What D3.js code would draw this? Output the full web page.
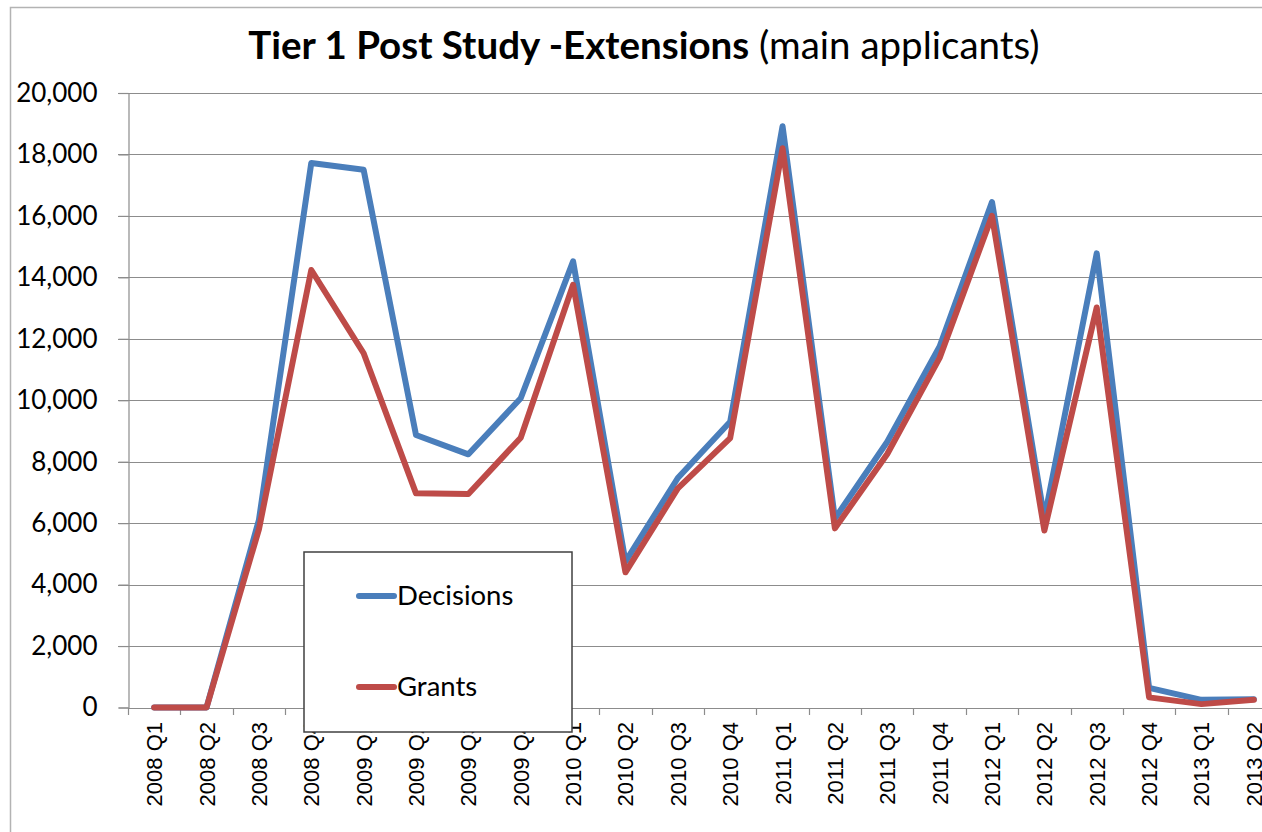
<!DOCTYPE html>
<html>
<head>
<meta charset="utf-8">
<script src="https://cdn.jsdelivr.net/npm/d3@7"></script>
<style>
  body { margin: 0; background: #fff; }
  svg { display: block; }
</style>
</head>
<body>
<svg id="chart" width="1262" height="832"></svg>
<script>
// quarters on the x axis
var quarters = ["2008 Q1", "2008 Q2", "2008 Q3", "2008 Q4", "2009 Q1", "2009 Q2", "2009 Q3", "2009 Q4",
  "2010 Q1", "2010 Q2", "2010 Q3", "2010 Q4", "2011 Q1", "2011 Q2", "2011 Q3", "2011 Q4",
  "2012 Q1", "2012 Q2", "2012 Q3", "2012 Q4", "2013 Q1", "2013 Q2"];

var decisions = [0, 0, 6100, 17720, 17500, 8870, 8240, 10065, 14520, 4750, 7470, 9300,
  18920, 6150, 8650, 11750, 16450, 6150, 14780, 640, 250, 270];

var grants = [0, 0, 5800, 14240, 11530, 6970, 6950, 8780, 13760, 4400, 7130, 8770,
  18200, 5830, 8250, 11380, 16000, 5760, 13020, 330, 110, 250];

var yTicks = [0, 2000, 4000, 6000, 8000, 10000, 12000, 14000, 16000, 18000, 20000];

var series = [
  {name: "Decisions", values: decisions, color: "#4a7ebb"},
  {name: "Grants", values: grants, color: "#be4b48"}
];

var svg = d3.select("#chart");
var labelFont = "Lato, 'Open Sans', sans-serif";

// outer chart border (right and bottom fall off the picture)
svg.append("rect")
  .attr("x", 10.5).attr("y", 7.5)
  .attr("width", 1300).attr("height", 900)
  .attr("fill", "none")
  .attr("stroke", "#b3b3b3")
  .attr("stroke-width", 1.5);

// title
var title = svg.append("text")
  .attr("x", 644).attr("y", 59)
  .attr("text-anchor", "middle")
  .style("font-family", labelFont)
  .style("font-size", "38.5px")
  .attr("fill", "#000");
title.append("tspan").style("font-weight", "bold").text("Tier 1 Post Study -Extensions");
title.append("tspan").text(" (main applicants)");

var x = d3.scaleBand().domain(quarters).range([128, 1280]);
var y = d3.scaleLinear().domain([0, 20000]).range([707.5, 93]);

// gridlines
svg.append("g")
  .selectAll("line")
  .data(yTicks.filter(d => d > 0))
  .enter()
  .append("line")
  .attr("x1", 118).attr("x2", 1262)
  .attr("y1", d => Math.round(y(d)) + 0.5)
  .attr("y2", d => Math.round(y(d)) + 0.5)
  .attr("stroke", "#8c8c8c")
  .attr("stroke-width", 1.2);

// y axis
var yAxis = svg.append("g")
  .attr("transform", "translate(128.5,0)")
  .call(d3.axisLeft(y).tickValues(yTicks).tickSize(10).tickPadding(21).tickFormat(d3.format(",")));
yAxis.select(".domain").attr("stroke", "#8c8c8c").attr("stroke-width", 1.2);
yAxis.selectAll(".tick line").attr("stroke", "#8c8c8c").attr("stroke-width", 1.2);
yAxis.selectAll(".tick text")
  .style("font-family", labelFont)
  .style("font-size", "26px")
  .attr("fill", "#000");

// x axis
var xAxis = svg.append("g")
  .attr("transform", "translate(0,708)")
  .call(d3.axisBottom(x).tickSize(0).tickFormat(""));
xAxis.select(".domain").attr("stroke", "#8c8c8c").attr("stroke-width", 1.2);

// category separator ticks
svg.append("g")
  .selectAll("line")
  .data(quarters)
  .enter()
  .append("line")
  .attr("x1", d => Math.round(x(d)) + 0.5)
  .attr("x2", d => Math.round(x(d)) + 0.5)
  .attr("y1", 708).attr("y2", 715)
  .attr("stroke", "#8c8c8c")
  .attr("stroke-width", 1.2);

// rotated quarter labels
svg.append("g")
  .selectAll("text")
  .data(quarters)
  .enter()
  .append("text")
  .attr("transform", d => "translate(" + (x(d) + x.bandwidth() / 2 + 8) + ",722) rotate(-90)")
  .attr("text-anchor", "end")
  .style("font-family", "'Liberation Sans', Arial, sans-serif")
  .style("font-size", "22px")
  .attr("fill", "#000")
  .text(d => d);

// lines
var line = d3.line()
  .x((d, i) => x(quarters[i]) + x.bandwidth() / 2)
  .y(d => y(d));

svg.append("g")
  .selectAll("path")
  .data(series)
  .enter()
  .append("path")
  .attr("d", d => line(d.values))
  .attr("fill", "none")
  .attr("stroke", d => d.color)
  .attr("stroke-width", 6)
  .attr("stroke-linejoin", "round")
  .attr("stroke-linecap", "round");

// legend box on top of the labels
var legend = svg.append("g");
legend.append("rect")
  .attr("x", 304).attr("y", 552)
  .attr("width", 268).attr("height", 180)
  .attr("fill", "#fff")
  .attr("stroke", "#404040")
  .attr("stroke-width", 1.5);

var legendY = [596, 687];
series.forEach(function(s, i) {
  legend.append("line")
    .attr("x1", 359).attr("x2", 394)
    .attr("y1", legendY[i]).attr("y2", legendY[i])
    .attr("stroke", s.color)
    .attr("stroke-width", 6)
    .attr("stroke-linecap", "round");
  legend.append("text")
    .attr("x", 397).attr("y", legendY[i] + 9)
    .style("font-family", labelFont)
    .style("font-size", "27.5px")
    .attr("fill", "#000")
    .text(s.name);
});
</script>
</body>
</html>
